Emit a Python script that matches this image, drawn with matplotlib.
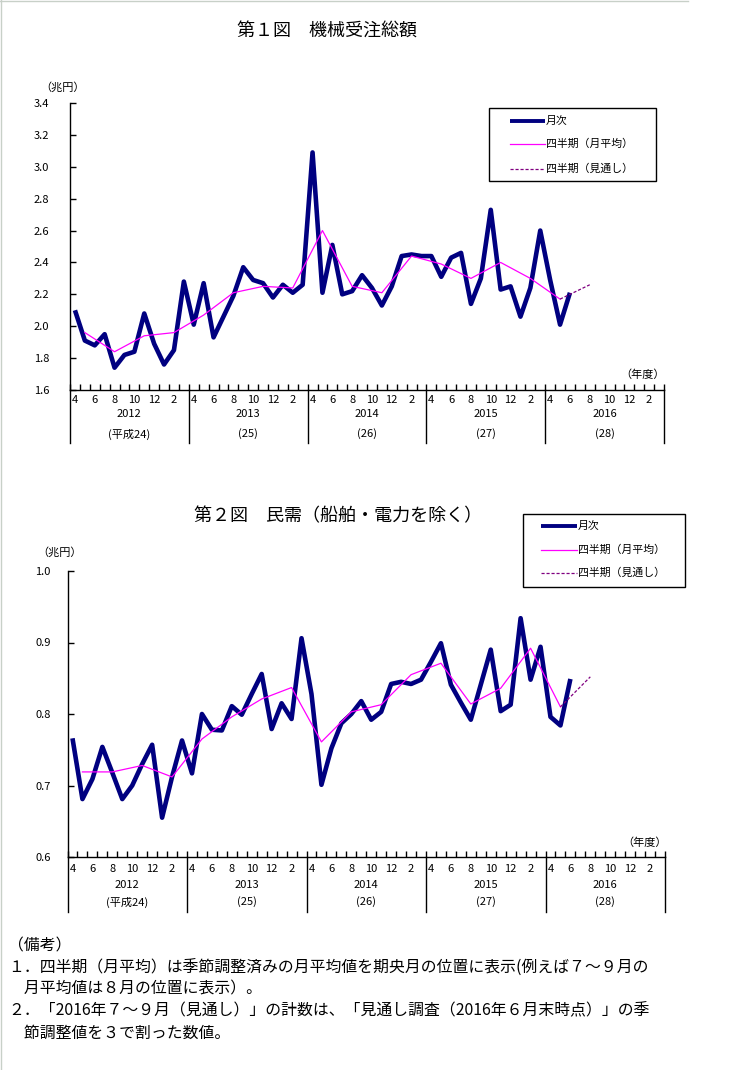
import numpy as np
import matplotlib
matplotlib.use('Agg')
import matplotlib.pyplot as plt
from matplotlib.lines import Line2D
from matplotlib.patches import Rectangle

plt.rcParams['font.family'] = ['Noto Sans CJK JP', 'DejaVu Sans']

W, H = 730, 1070

# --- data (fiscal years Apr 2012 - Jun 2016, trillion yen) ---
fiscal_years = ['2012', '2013', '2014', '2015', '2016']
heisei = ['(平成24)', '(25)', '(26)', '(27)', '(28)']
month_labels = ['4', '6', '8', '10', '12', '2']
month_label_idx = [0, 2, 4, 6, 8, 10]

total_monthly = [2.10, 1.91, 1.88, 1.95, 1.74, 1.82, 1.84, 2.08, 1.89, 1.76, 1.85, 2.28,
                 2.01, 2.27, 1.93, 2.06, 2.19, 2.37, 2.29, 2.27, 2.18, 2.26, 2.21, 2.26,
                 3.09, 2.21, 2.51, 2.20, 2.22, 2.32, 2.24, 2.13, 2.25, 2.44, 2.45, 2.44,
                 2.44, 2.31, 2.43, 2.46, 2.14, 2.30, 2.73, 2.23, 2.25, 2.06, 2.24, 2.60,
                 2.29, 2.01, 2.21]
total_quarterly = [1.96, 1.84, 1.94, 1.96, 2.07, 2.21, 2.25, 2.24, 2.60, 2.25, 2.21,
                   2.44, 2.39, 2.30, 2.40, 2.30, 2.17]
total_forecast = 2.26

private_monthly = [0.766, 0.681, 0.709, 0.754, 0.718, 0.681, 0.700, 0.730, 0.757, 0.655, 0.712, 0.763,
                   0.717, 0.800, 0.778, 0.777, 0.811, 0.799, 0.828, 0.856, 0.779, 0.815, 0.793, 0.906,
                   0.828, 0.701, 0.752, 0.787, 0.800, 0.818, 0.792, 0.803, 0.842, 0.845, 0.842, 0.848,
                   0.873, 0.899, 0.841, 0.816, 0.792, 0.841, 0.890, 0.804, 0.813, 0.934, 0.848, 0.894,
                   0.796, 0.784, 0.849]
private_quarterly = [0.719, 0.719, 0.728, 0.712, 0.765, 0.796, 0.821, 0.837, 0.761, 0.803, 0.813,
                     0.855, 0.871, 0.814, 0.836, 0.892, 0.810]
private_forecast = 0.852

legend_labels = ['月次', '四半期（月平均）', '四半期（見通し）']

monthly_style = dict(color='#000080', lw=3.3, solid_capstyle='butt')
quarter_style = dict(color='#ff00ff', lw=0.9)
forecast_style = dict(color='#800080', lw=0.9, linestyle=(0, (2.5, 1.5)))


def fx(x):
    return x / W


def fy(y):
    return 1 - y / H


def draw_panel(fig, left, right, top, bottom, ylim, yticks, monthly, quarterly, forecast,
               ypad, rows_below):
    ax = fig.add_axes([fx(left), fy(bottom), (right - left) / W, (bottom - top) / H])
    ax.set_xlim(0, 60)
    ax.set_ylim(*ylim)
    for s in ['top', 'right']:
        ax.spines[s].set_visible(False)
    for s in ['left', 'bottom']:
        ax.spines[s].set_linewidth(1.0)

    xm = np.arange(len(monthly)) + 0.5
    xq = np.arange(len(quarterly)) * 3 + 1.5
    ax.plot(xm, monthly, **monthly_style)
    ax.plot(xq, quarterly, **quarter_style)
    ax.plot([xq[-1], xq[-1] + 3], [quarterly[-1], forecast], **forecast_style)

    ax.set_yticks(yticks)
    ax.set_yticklabels(['%.1f' % v for v in yticks], fontsize=8)
    ax.tick_params(axis='y', direction='in', length=4, width=1, pad=ypad)
    ax.set_xticks(np.arange(61))
    ax.set_xticklabels([])
    ax.tick_params(axis='x', direction='in', length=4, width=1)

    h = bottom - top
    tr = ax.get_xaxis_transform()
    m_off, y_off, h_off, d_off = rows_below
    for k in range(6):
        x0 = k * 12
        ax.plot([x0, x0], [0, -d_off / h], transform=tr, color='black', lw=1, clip_on=False)
    for k, (yr, hs) in enumerate(zip(fiscal_years, heisei)):
        x0 = k * 12
        for lab, idx in zip(month_labels, month_label_idx):
            ax.text(x0 + idx + 0.5, -m_off / h, lab, transform=tr, ha='center', va='center',
                    fontsize=8)
        ax.text(x0 + 6, -y_off / h, yr, transform=tr, ha='center', va='center', fontsize=8)
        ax.text(x0 + 6, -h_off / h, hs, transform=tr, ha='center', va='center', fontsize=8)
    return ax


def draw_legend(fig, x0, y0, x1, y1, lx0, lx1, rows):
    fig.add_artist(Rectangle((fx(x0), fy(y1)), (x1 - x0) / W, (y1 - y0) / H,
                             transform=fig.transFigure, facecolor='white',
                             edgecolor='black', lw=1))
    styles = [dict(monthly_style, lw=2.8), quarter_style, forecast_style]
    for ry, st, lab in zip(rows, styles, legend_labels):
        fig.add_artist(Line2D([fx(lx0), fx(lx1)], [fy(ry), fy(ry)],
                              transform=fig.transFigure, **st))
        fig.text(fx(lx1 + 1), fy(ry), lab, ha='left', va='center', fontsize=7.8)


fig = plt.figure(figsize=(W / 100, H / 100), dpi=100)

# faint page border
fig.add_artist(Line2D([0, fx(688)], [fy(1), fy(1)], transform=fig.transFigure,
                      color='#c8d0c8', lw=1))
fig.add_artist(Line2D([fx(1.5), fx(1.5)], [0, 1], transform=fig.transFigure,
                      color='#c8d0c8', lw=1))

# --- chart 1 ---
fig.text(fx(327), fy(32), '第１図　機械受注総額', ha='center', va='center', fontsize=13)
fig.text(fx(63), fy(87), '（兆円）', ha='center', va='center', fontsize=8)
fig.text(fx(643), fy(375), '（年度）', ha='center', va='center', fontsize=8)
draw_panel(fig, 70, 664, 103, 390, (1.6, 3.4), np.arange(1.6, 3.41, 0.2),
           total_monthly, total_quarterly, total_forecast, 15, (10, 24, 44, 53))
draw_legend(fig, 489, 108, 656, 181, 510, 545, [121, 144, 169])

# --- chart 2 ---
fig.text(fx(338), fy(516), '第２図　民需（船舶・電力を除く）', ha='center', va='center',
         fontsize=13)
fig.text(fx(60), fy(552), '（兆円）', ha='center', va='center', fontsize=8)
fig.text(fx(645), fy(843), '（年度）', ha='center', va='center', fontsize=8)
draw_panel(fig, 67.5, 665, 571, 857, (0.6, 1.0), np.arange(0.6, 1.01, 0.1),
           private_monthly, private_quarterly, private_forecast, 12, (12, 28, 45, 55))
draw_legend(fig, 523, 514, 685, 587, 541, 577, [526, 550, 573])

# --- notes ---
notes = [
    (8, 946, '（備考）'),
    (8, 968, '１．四半期（月平均）は季節調整済みの月平均値を期央月の位置に表示(例えば７～９月の'),
    (8, 989, '　月平均値は８月の位置に表示）。'),
    (8, 1011, '２．「2016年７～９月（見通し）」の計数は、「見通し調査（2016年６月末時点）」の季'),
    (8, 1033, '　節調整値を３で割った数値。'),
]
for x, y, t in notes:
    fig.text(fx(x), fy(y), t, ha='left', va='center', fontsize=11.4)

fig.savefig('out.png', dpi=100)
